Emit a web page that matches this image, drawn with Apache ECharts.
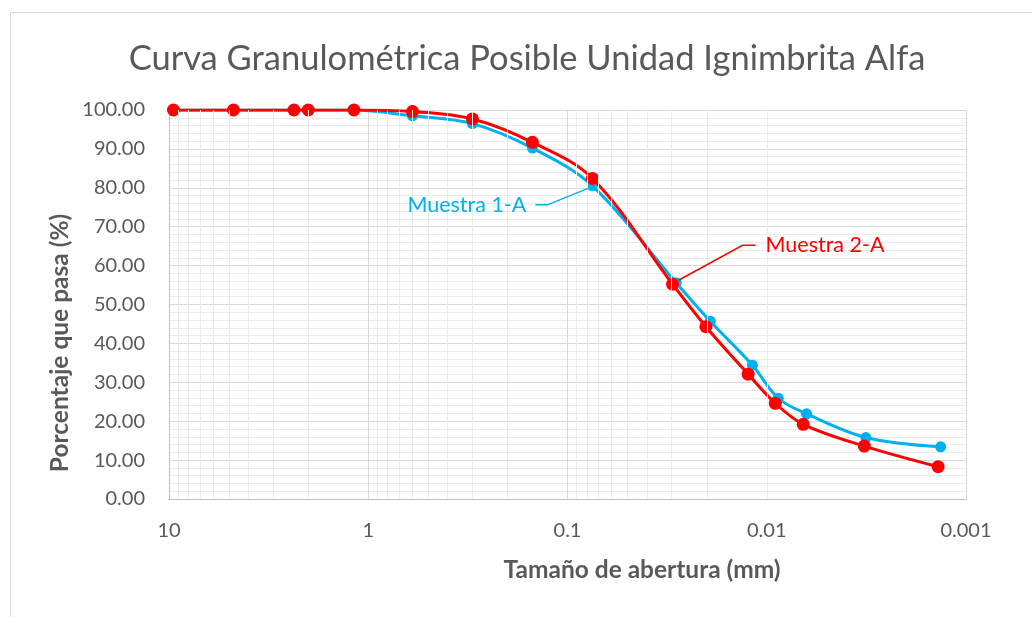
<!DOCTYPE html>
<html>
<head>
<meta charset="utf-8">
<title>Curva Granulométrica</title>
<script src="https://cdn.jsdelivr.net/npm/echarts@6/dist/echarts.min.js"></script>
<style>
  html, body { margin: 0; padding: 0; background: #ffffff; }
  #chart { width: 1032px; height: 617px; }
</style>
</head>
<body>
<div id="chart"></div>
<script>
// Sieve / hydrometer sizes (mm) and percent passing for each sample
const sizesM1 = [9.5, 4.75, 2.36, 2.0, 1.18, 0.6, 0.3, 0.15, 0.075, 0.0285, 0.0192, 0.0118, 0.00875, 0.00631, 0.00318, 0.00134];
const passM1  = [100, 100, 100, 100, 100, 98.5, 96.5, 90.2, 80.5, 55.6, 45.7, 34.4, 25.9, 21.9, 15.8, 13.4];
const sizesM2 = [9.5, 4.75, 2.36, 2.0, 1.18, 0.6, 0.3, 0.15, 0.075, 0.0297, 0.0202, 0.0124, 0.00906, 0.00656, 0.00324, 0.00138];
const passM2  = [100, 100, 100, 100, 100, 99.6, 97.7, 91.7, 82.4, 55.2, 44.3, 32.1, 24.6, 19.2, 13.6, 8.3];

const seriesNames = ['Muestra 1-A', 'Muestra 2-A'];
const xTickLabels = ['0.001', '0.01', '0.1', '1', '10'];   // decades 10^-3 .. 10^1
const decades = [-3, -2, -1, 0];
const titleText = 'Curva Granulométrica Posible Unidad Ignimbrita Alfa';
const xName = 'Tamaño de abertura (mm)';
const yName = 'Porcentaje que pasa (%)';

const FONT = 'Lato, "Open Sans", sans-serif';
const TEXT = '#595959';
const BLUE = '#00B0F0';
const RED = '#FF0000';

// log-axis minor gridlines at 2..9 of each decade
const minorX = [];
decades.forEach(d => { for (let k = 2; k <= 9; k++) minorX.push({ xAxis: k * Math.pow(10, d) }); });

const chart = echarts.init(document.getElementById('chart'), null, { renderer: 'canvas' });

const pairs = (xs, ys) => xs.map((x, i) => [x, ys[i]]);

chart.setOption({
  animation: false,
  backgroundColor: '#ffffff',
  textStyle: { fontFamily: FONT },
  grid: { left: 169, right: 66, top: 110, bottom: 118, containLabel: false },
  xAxis: {
    type: 'log',
    logBase: 10,
    inverse: true,
    min: 0.001,
    max: 10,
    axisLine: { show: true, lineStyle: { color: '#bfbfbf', width: 1 } },
    axisTick: { show: false },
    axisLabel: {
      color: TEXT, fontSize: 20, fontFamily: FONT, margin: 22,
      formatter: v => xTickLabels[Math.round(Math.log10(v)) + 3] || ''
    },
    splitLine: { show: true, lineStyle: { color: '#d9d9d9', width: 1 } }
  },
  yAxis: {
    type: 'value',
    min: 0,
    max: 100,
    interval: 10,
    axisLine: { show: true, lineStyle: { color: '#bfbfbf', width: 1 } },
    axisTick: { show: false },
    axisLabel: { color: TEXT, fontSize: 20, fontFamily: FONT, margin: 24, formatter: v => v.toFixed(2) },
    splitLine: { show: true, lineStyle: { color: '#d9d9d9', width: 1 } },
    minorTick: { show: false, splitNumber: 5 },
    minorSplitLine: { show: true, lineStyle: { color: '#ebebeb', width: 1 } }
  },
  series: [
    {
      type: 'line',
      name: 'minor-grid',
      data: [],
      silent: true,
      z: 0,
      markLine: {
        silent: true,
        symbol: ['none', 'none'],
        label: { show: false },
        lineStyle: { color: '#ebebeb', width: 1, type: 'solid' },
        emphasis: { disabled: true },
        data: minorX
      }
    },
    {
      type: 'line',
      name: seriesNames[0],
      data: pairs(sizesM1, passM1),
      smooth: 0.35,
      symbol: 'circle',
      symbolSize: 11,
      itemStyle: { color: BLUE },
      lineStyle: { color: BLUE, width: 3 },
      z: 3
    },
    {
      type: 'line',
      name: seriesNames[1],
      data: pairs(sizesM2, passM2),
      smooth: 0.35,
      symbol: 'circle',
      symbolSize: 13,
      itemStyle: { color: RED },
      lineStyle: { color: RED, width: 3 },
      z: 4
    }
  ]
});

// Series labels with leader lines, anchored to data points via the axes
const p1 = chart.convertToPixel({ seriesIndex: 1 }, [sizesM1[8], passM1[8]]);
const p2 = chart.convertToPixel({ seriesIndex: 2 }, [sizesM2[9], passM2[9]]);

chart.setOption({
  graphic: [
    {
      type: 'rect', silent: true, z: -10,
      shape: { x: 10.5, y: 12.5, width: 1200, height: 800 },
      style: { fill: 'none', stroke: '#d9d9d9', lineWidth: 1 }
    },
    {
      type: 'text', x: 527, y: 59, silent: true,
      style: { text: titleText, fill: TEXT, font: '34.5px ' + FONT, textAlign: 'center', textVerticalAlign: 'middle' }
    },
    {
      type: 'text', x: 642, y: 570, silent: true,
      style: { text: xName, fill: TEXT, font: 'bold 24.5px ' + FONT, textAlign: 'center', textVerticalAlign: 'middle' }
    },
    {
      type: 'text', x: 60, y: 343, rotation: Math.PI / 2, silent: true,
      style: { text: yName, fill: TEXT, font: 'bold 24.5px ' + FONT, textAlign: 'center', textVerticalAlign: 'middle' }
    },
    {
      type: 'polyline', silent: true, z: 10,
      shape: { points: [[p1[0] - 3, p1[1] + 2], [p1[0] - 45, p1[1] + 19], [p1[0] - 57, p1[1] + 19]] },
      style: { stroke: BLUE, lineWidth: 1.5, fill: 'none' }
    },
    {
      type: 'text', x: p1[0] - 66, y: p1[1] + 19, silent: true, z: 10,
      style: { text: seriesNames[0], fill: BLUE, font: '21.5px ' + FONT, textAlign: 'right', textVerticalAlign: 'middle' }
    },
    {
      type: 'polyline', silent: true, z: 10,
      shape: { points: [[p2[0] + 6, p2[1] - 4], [p2[0] + 70, p2[1] - 39], [p2[0] + 83, p2[1] - 39]] },
      style: { stroke: RED, lineWidth: 1.5, fill: 'none' }
    },
    {
      type: 'text', x: p2[0] + 93, y: p2[1] - 39, silent: true, z: 10,
      style: { text: seriesNames[1], fill: RED, font: '21.5px ' + FONT, textAlign: 'left', textVerticalAlign: 'middle' }
    }
  ]
});
</script>
</body>
</html>
